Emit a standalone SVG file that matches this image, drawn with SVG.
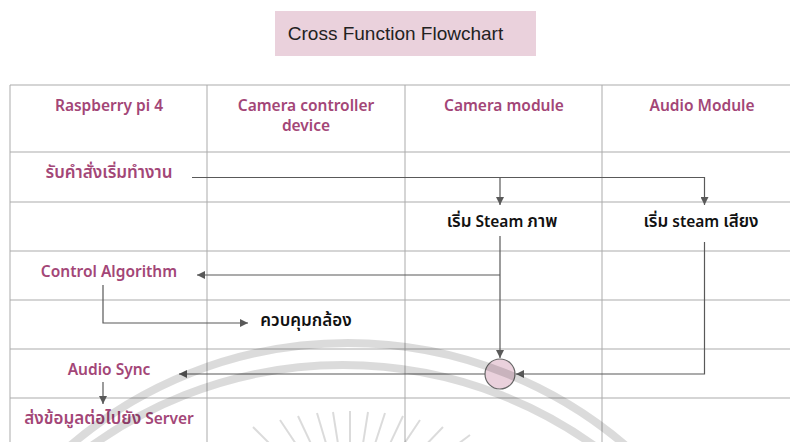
<svg xmlns="http://www.w3.org/2000/svg" width="790" height="442" viewBox="0 0 790 442">
<style>
.grid{stroke:#ababab;stroke-width:1;fill:none}
.lbl{font-family:"Noto Sans","Noto Sans Thai","Noto Sans Thai UI",sans-serif;font-size:15.5px;font-weight:600;text-anchor:middle}
.th{font-size:17px}
.mag{fill:#a34677}
.blk{fill:#111}
.conn{stroke:#595959;stroke-width:1.2;fill:none}
.wm{stroke:#000;stroke-opacity:0.14;fill:none}
</style>
<defs>
<marker id="arr" markerWidth="9" markerHeight="8" refX="8" refY="4" orient="auto" markerUnits="userSpaceOnUse">
<path d="M0,0 L8,4 L0,8 z" fill="#595959"/>
</marker>
</defs>
<rect width="790" height="442" fill="#fff"/>
<g id="title">
<rect x="275" y="11" width="261" height="45" fill="#ead1dc"/>
<text x="395.5" y="40" font-family="Liberation Sans,Arial,sans-serif" font-size="19" fill="#222" text-anchor="middle">Cross Function Flowchart</text>
</g>
<g id="grid" class="grid">
<line x1="10" y1="85" x2="800" y2="85"/>
<line x1="10" y1="152" x2="800" y2="152"/>
<line x1="10" y1="202" x2="800" y2="202"/>
<line x1="10" y1="251" x2="800" y2="251"/>
<line x1="10" y1="300" x2="800" y2="300"/>
<line x1="10" y1="349" x2="800" y2="349"/>
<line x1="10" y1="398" x2="800" y2="398"/>
<line x1="10" y1="85" x2="10" y2="450"/>
<line x1="207" y1="85" x2="207" y2="450"/>
<line x1="405" y1="85" x2="405" y2="450"/>
<line x1="602" y1="85" x2="602" y2="450"/>
</g>
<g id="headers">
<text class="lbl mag" x="109" y="111">Raspberry pi 4</text>
<text class="lbl mag" x="306" y="111">Camera controller</text>
<text class="lbl mag" x="306" y="131">device</text>
<text class="lbl mag" x="504" y="111">Camera module</text>
<text class="lbl mag" x="702" y="111">Audio Module</text>
</g>
<g id="connectors">
<path class="conn" d="M192,177.5 H704.5 V205" marker-end="url(#arr)"/>
<path class="conn" d="M500,177.5 V205" marker-end="url(#arr)"/>
<path class="conn" d="M500,236 V358" marker-end="url(#arr)"/>
<path class="conn" d="M500,275 H197" marker-end="url(#arr)"/>
<path class="conn" d="M103,285 V323 H248" marker-end="url(#arr)"/>
<path class="conn" d="M704.5,242 V374 H516" marker-end="url(#arr)"/>
<path class="conn" d="M485,374 H179" marker-end="url(#arr)"/>
<path class="conn" d="M103,382 V404" marker-end="url(#arr)"/>
</g>
<g id="n-start"><text class="lbl mag th" x="109" y="178">รับคำสั่งเริ่มทำงาน</text></g>
<g id="n-steam-img"><text class="lbl blk" x="502" y="227"><tspan class="th">เริ่ม</tspan> Steam <tspan class="th">ภาพ</tspan></text></g>
<g id="n-steam-audio"><text class="lbl blk" x="701" y="227"><tspan class="th">เริ่ม</tspan> steam <tspan class="th">เสียง</tspan></text></g>
<g id="n-control"><text class="lbl mag" x="109" y="277">Control Algorithm</text></g>
<g id="n-camctl"><text class="lbl blk th" x="306" y="326">ควบคุมกล้อง</text></g>
<g id="n-merge"><circle cx="500" cy="374" r="15" fill="#ead1dc" stroke="#666" stroke-width="1.2"/></g>
<g id="n-sync"><text class="lbl mag" x="109" y="375">Audio Sync</text></g>
<g id="n-send"><text class="lbl mag" x="109" y="424"><tspan class="th">ส่งข้อมูลต่อไปยัง</tspan> Server</text></g>
<g id="watermark">
<circle class="wm" cx="348" cy="770" r="427" stroke-width="8"/>
<circle class="wm" cx="343" cy="796" r="431" stroke-width="8"/>
<g class="wm" stroke-width="2" stroke-opacity="0.11">
<line x1="253" y1="427" x2="276" y2="450"/>
<line x1="280" y1="420" x2="300" y2="450"/>
<line x1="298" y1="416" x2="314" y2="450"/>
<line x1="317" y1="413" x2="328" y2="450"/>
<line x1="333" y1="412" x2="339" y2="450"/>
<line x1="350" y1="411" x2="350" y2="450"/>
<line x1="368" y1="412" x2="362" y2="450"/>
<line x1="385" y1="413" x2="373" y2="450"/>
<line x1="403" y1="416" x2="387" y2="450"/>
<line x1="420" y1="420" x2="400" y2="450"/>
<line x1="443" y1="427" x2="421" y2="450"/>
<line x1="470" y1="435" x2="450" y2="450"/>
</g>
</g>
</svg>
